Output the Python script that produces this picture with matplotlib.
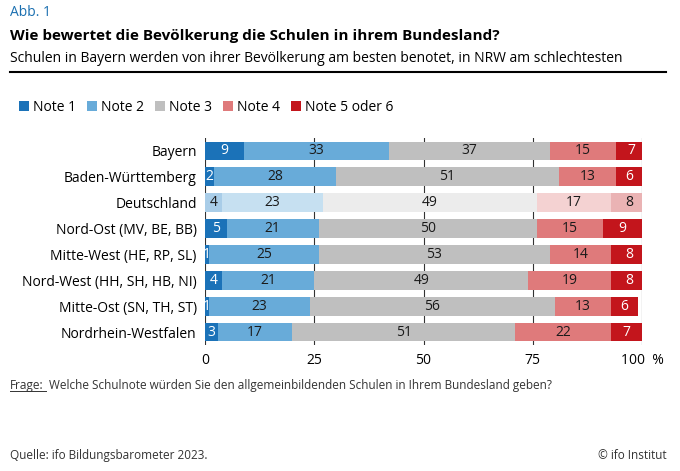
import numpy as np
from matplotlib import pyplot as plt

regions = ['Bayern', 'Baden-Württemberg', 'Deutschland', 'Nord-Ost (MV, BE, BB)',
           'Mitte-West (HE, RP, SL)', 'Nord-West (HH, SH, HB, NI)',
           'Mitte-Ost (SN, TH, ST)', 'Nordrhein-Westfalen']
note1 = [9, 2, 4, 5, 1, 4, 1, 3]
note2 = [33, 28, 23, 21, 25, 21, 23, 17]
note3 = [37, 51, 49, 50, 53, 49, 56, 51]
note4 = [15, 13, 17, 15, 14, 19, 13, 22]
note5 = [7, 6, 8, 9, 8, 8, 6, 7]
labels = ['Note 1', 'Note 2', 'Note 3', 'Note 4', 'Note 5 oder 6']

colors = ['#1b72b8', '#68abd9', '#bfbfbf', '#df7a7b', '#c3151c']
light = ['#a9cde8', '#c6e0f1', '#ececec', '#f4d2d2', '#eab3b4']
txtc = ['white', '#1a1a1a', '#1a1a1a', '#1a1a1a', 'white']

plt.rcParams['font.family'] = 'Open Sans'
fig = plt.figure(figsize=(6.8, 4.71), dpi=100)
ax = fig.add_axes([205/680, 1-345/471, 437/680, (345-138)/471])

series = [note1, note2, note3, note4, note5]
y = np.arange(len(regions))
left = np.zeros(len(regions))
for k, s in enumerate(series):
    s = np.array(s, dtype=float)
    cols = [light[k] if r == 'Deutschland' else colors[k] for r in regions]
    ax.barh(y, s, left=left, height=0.72, color=cols, label=labels[k], zorder=2)
    for i, v in enumerate(s):
        tc = txtc[k] if regions[i] != 'Deutschland' else '#1a1a1a'
        ax.text(left[i] + v/2, y[i], '%d' % v, ha='center', va='center',
                fontsize=10, color=tc, zorder=3)
    left += s

ax.set_xlim(0, 100)
ax.set_ylim(len(regions)-0.5, -0.5)
ax.set_yticks(y)
ax.set_yticklabels(regions, fontsize=10)
ax.set_xticks([0, 25, 50, 75, 100])
ax.set_xticklabels(['0', '25', '50', '75', '100  %'], fontsize=10)
for x in [0, 25, 50, 75, 100]:
    ax.axvline(x, color='#333333', lw=0.8, zorder=1)
ax.tick_params(length=0, pad=6)
for sp in ax.spines.values():
    sp.set_visible(False)

leg = fig.legend(loc='upper left', bbox_to_anchor=(0.01, 0.815), ncol=5, frameon=False,
                 fontsize=10, handlelength=0.7, handleheight=0.7, handletextpad=0.3,
                 columnspacing=0.8)

fig.text(0.015, 0.965, 'Abb. 1', fontsize=10, color='#1a6fb0')
fig.text(0.015, 0.915, 'Wie bewertet die Bevölkerung die Schulen in ihrem Bundesland?',
         fontsize=11, fontweight='bold')
fig.text(0.015, 0.868, 'Schulen in Bayern werden von ihrer Bevölkerung am besten benotet, in NRW am schlechtesten',
         fontsize=10)
fig.add_artist(plt.Line2D([0.015, 0.98], [0.848, 0.848], color='black', lw=1.5))
fig.text(0.015, 0.175, 'Frage:', fontsize=8.5, color='#333333')
fig.add_artist(plt.Line2D([0.015, 0.068], [0.169, 0.169], color='#333333', lw=0.7))
fig.text(0.072, 0.175, 'Welche Schulnote würden Sie den allgemeinbildenden Schulen in Ihrem Bundesland geben?',
         fontsize=8.5, color='#333333')
fig.text(0.015, 0.025, 'Quelle: ifo Bildungsbarometer 2023.', fontsize=8.5, color='#333333')
fig.text(0.98, 0.025, '© ifo Institut', fontsize=8.5, color='#333333', ha='right')

fig.savefig('out.png', dpi=100)
